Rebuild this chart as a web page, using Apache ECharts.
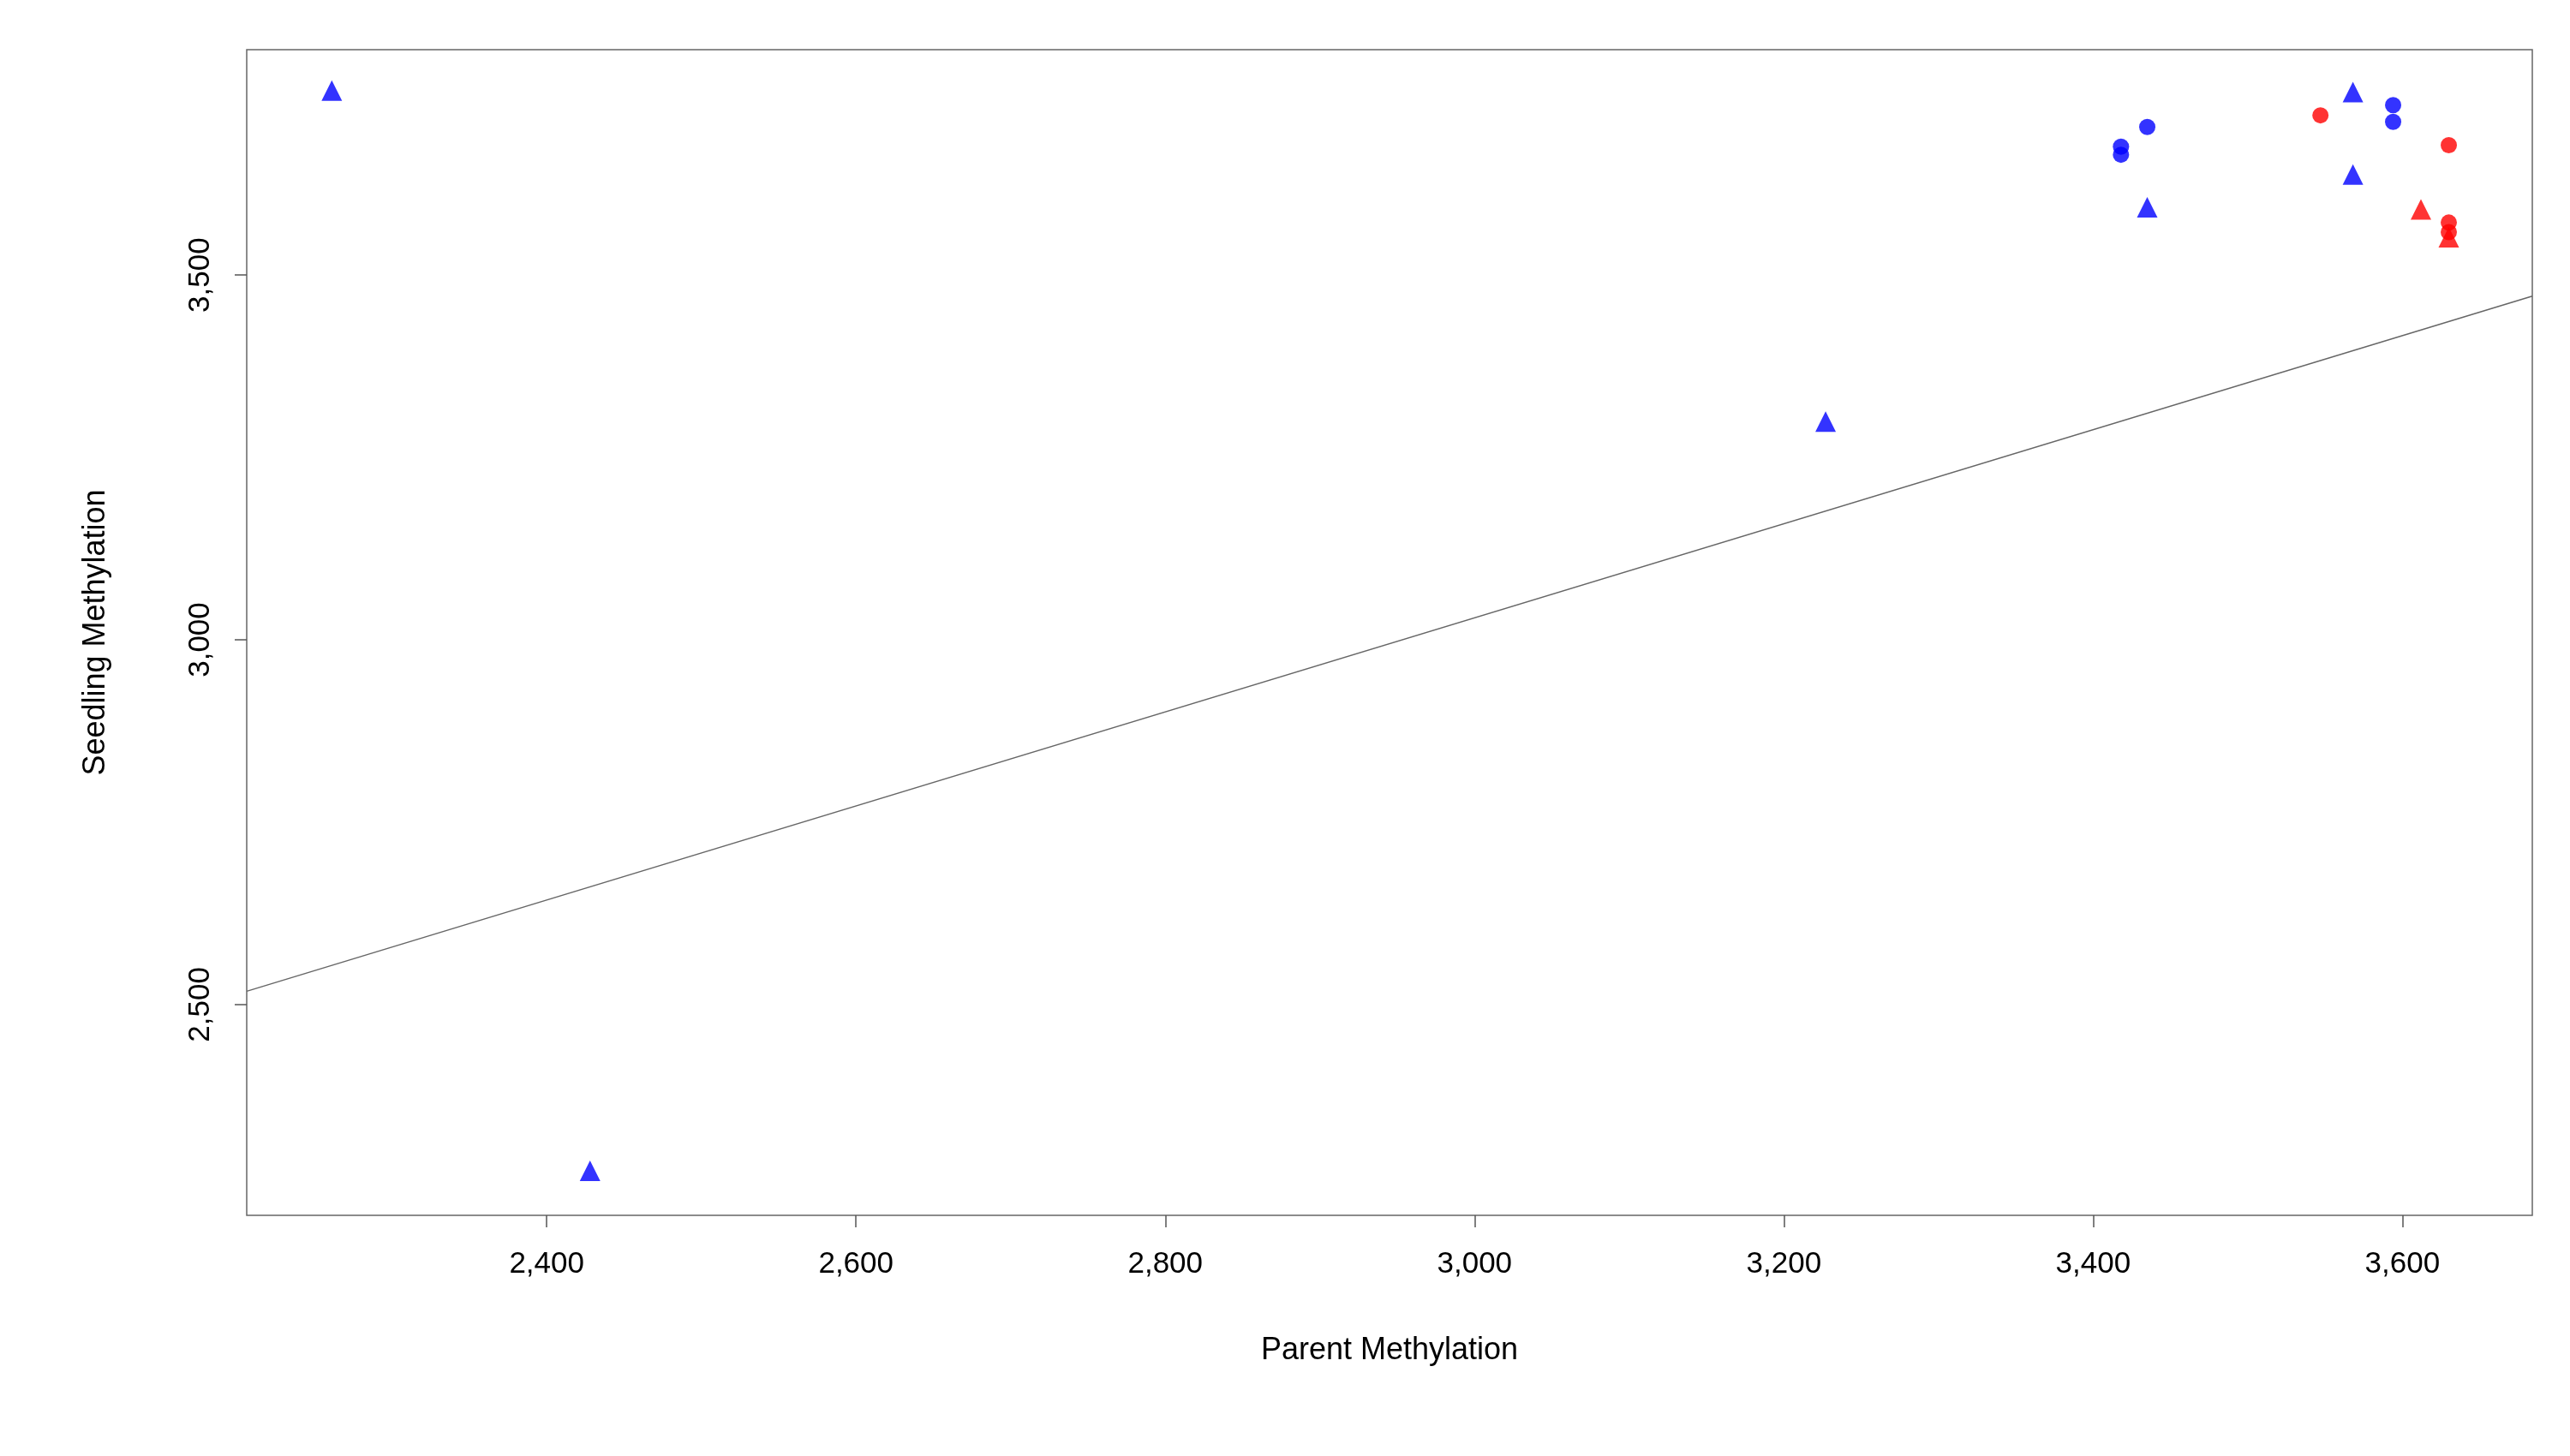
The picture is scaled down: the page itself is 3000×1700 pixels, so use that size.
<!DOCTYPE html>
<html><head><meta charset="utf-8">
<script src="https://cdn.jsdelivr.net/npm/echarts@6/dist/echarts.min.js"></script>
<style>html,body{margin:0;background:#fff}#c{width:3000px;height:1700px}</style>
</head><body><div id="c"></div>
<script>
var xTicks=[2400,2600,2800,3000,3200,3400,3600];
var yTicks=[2500,3000,3500];
// 数据点
var blueTri=[[2261,3753],[2428,2272],[3227,3299],[3435,3593],[3568,3751],[3568,3638]];
var blueCirc=[[3418,3676],[3418,3665],[3435,3703],[3594,3733],[3594,3710]];
var redCirc=[[3547,3719],[3630,3678],[3630,3572],[3630,3559]];
var redTri=[[3612,3590],[3630,3552]];
var fitX=[2206,3684];
var fitIntercept=1096, fitSlope=0.6447;
var fitLine=fitX.map(function(x){return [x,fitIntercept+fitSlope*x];});

var font='Liberation Sans';
var chart=echarts.init(document.getElementById('c'));
function sc(data,color,sym,size){
  return {type:'scatter',data:data,symbol:sym,symbolSize:size,itemStyle:{color:color},z:3};
}
chart.setOption({
  animation:false,
  grid:{left:288,right:44,top:58,bottom:281,show:true,borderColor:'#666',borderWidth:1.5},
  xAxis:{type:'value',min:2206,max:3684,name:'Parent Methylation',nameLocation:'middle',nameGap:140,
    nameTextStyle:{fontFamily:font,fontSize:36,color:'#000'},
    splitLine:{show:false},axisLine:{show:false},
    axisTick:{show:true,length:14,customValues:xTicks,lineStyle:{color:'#555',width:1.5}},
    axisLabel:{customValues:xTicks,fontFamily:font,fontSize:35,color:'#000',margin:40}},
  yAxis:{type:'value',min:2211,max:3809,name:'Seedling Methylation',nameLocation:'middle',nameGap:158,
    nameTextStyle:{fontFamily:font,fontSize:36,color:'#000'},
    splitLine:{show:false},axisLine:{show:false},
    axisTick:{show:true,length:14,customValues:yTicks,lineStyle:{color:'#555',width:1.5}},
    axisLabel:{customValues:yTicks,fontFamily:font,fontSize:35,color:'#000',rotate:90,margin:36}},
  series:[
    {type:'line',data:fitLine,symbol:'none',lineStyle:{color:'#666',width:1.5},z:2},
    sc(blueTri,'#0000ff','triangle',24),
    sc(blueCirc,'#0000ff','circle',19),
    sc(redCirc,'#ff0000','circle',19),
    sc(redTri,'#ff0000','triangle',24)
  ]
});
</script></body></html>
